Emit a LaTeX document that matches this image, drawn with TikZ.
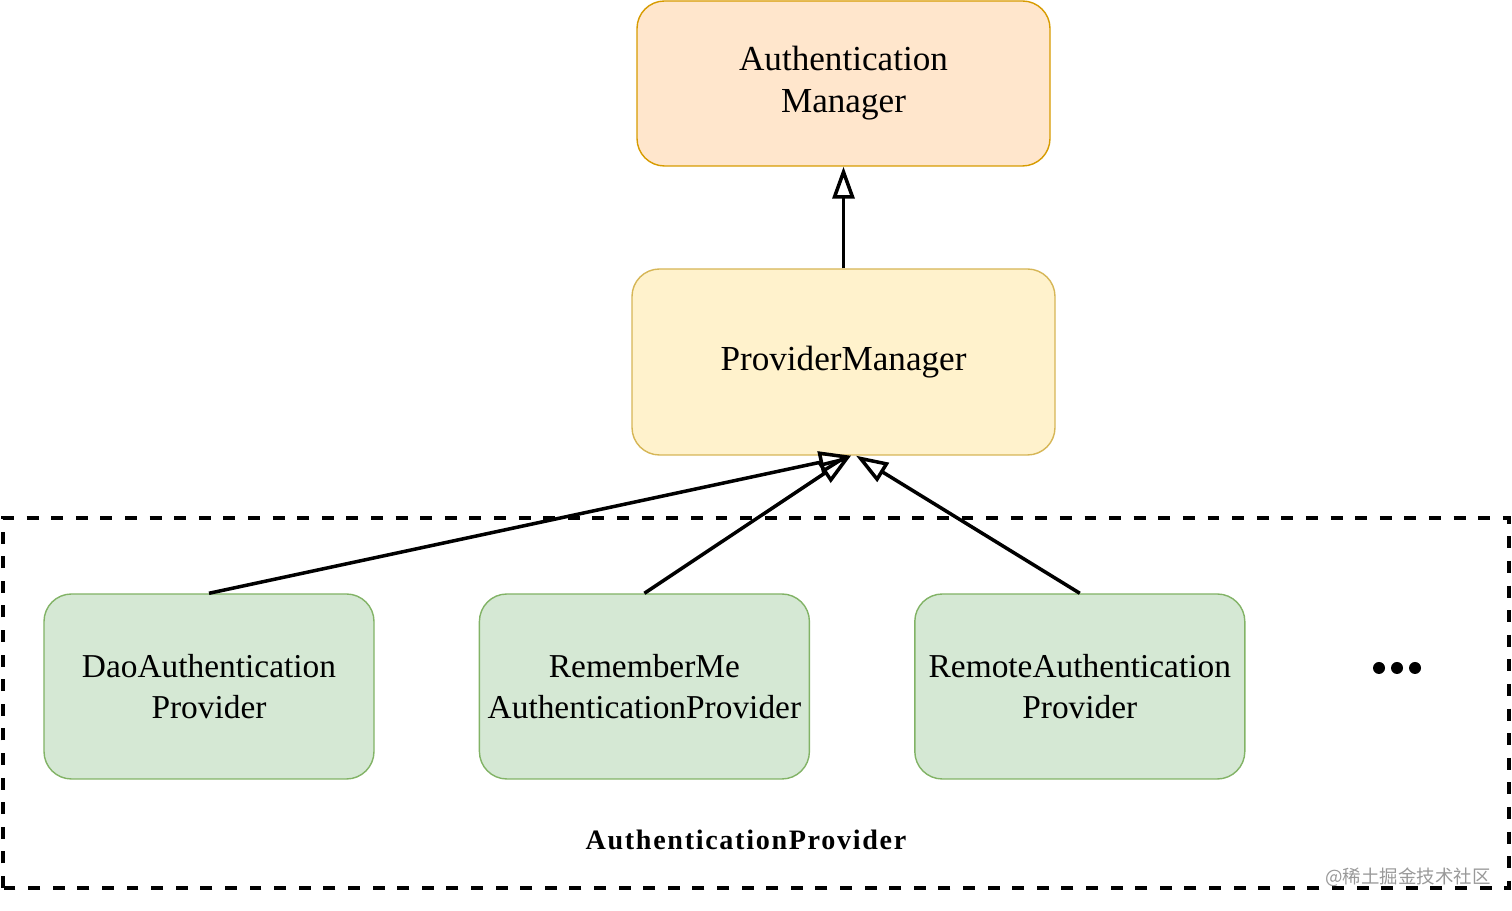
\documentclass[tikz,border=0pt]{standalone}
\usepackage{fontspec}
\setmainfont{Liberation Serif}
\newfontfamily\labelfont[LetterSpace=6]{Liberation Serif}
\newfontfamily\cjkfont{Noto Sans CJK SC}
\usetikzlibrary{arrows.meta, positioning}

\definecolor{amfill}{HTML}{FFE6CC}
\definecolor{amline}{HTML}{D79B00}
\definecolor{pmfill}{HTML}{FFF2CC}
\definecolor{pmline}{HTML}{D6B656}
\definecolor{apfill}{HTML}{D5E8D4}
\definecolor{apline}{HTML}{82B366}

\begin{document}
\begin{tikzpicture}[
    every node/.style={font=\fontsize{20}{24}\selectfont, align=center},
    box/.style={draw, line width=0.8pt, rounded corners=0.55cm},
    provider/.style={box, fill=apfill, draw=apline, inner sep=1pt, minimum width=6.6cm, minimum height=3.7cm, font=\fontsize{19}{23}\selectfont},
    extends/.style={-{Triangle[open, length=0.64cm, width=0.44cm]}, line width=2pt}
  ]
  \useasboundingbox (0,0) rectangle (30.24,18.22);
  % AuthenticationManager
  \node[box, fill=amfill, draw=amline, minimum width=8.26cm, minimum height=3.3cm] (am) at (16.87,16.55) {Authentication\\Manager};
  % ProviderManager
  \node[box, fill=pmfill, draw=pmline, minimum width=8.46cm, minimum height=3.72cm] (pm) at (16.87,10.98) {ProviderManager};
  % Providers
  \node[provider] (dao) at (4.18,4.49) {DaoAuthentication\\Provider};
  \node[provider, right=2.08cm of dao] (rememberme) {RememberMe\\AuthenticationProvider};
  \node[provider, right=2.08cm of rememberme] (remote) {RemoteAuthentication\\Provider};
  % more
  \coordinate (more) at (27.94,4.86);
  \foreach \dx in {-0.36,0,0.36}
    \fill ([xshift=\dx cm]more) circle (0.12);
  % AuthenticationProvider group
  \draw[line width=2.3pt, dash pattern=on 6.8pt off 7.2pt] (0.06,0.46) rectangle (30.18,7.86);
  \node[font=\labelfont\bfseries\fontsize{16}{19}\selectfont] (group) at (14.92,1.42) {AuthenticationProvider};
  % Arrows
  \draw[extends] (pm) -- (am);
  \coordinate (pmtip) at ([xshift=0.15cm]pm.south);
  \draw[extends] (dao.north) -- (pmtip);
  \draw[extends] (rememberme.north) -- (pmtip);
  \draw[extends] (remote.north) -- ([xshift=0.25cm]pm.south);
  % watermark
  \node[font=\cjkfont\fontsize{10.5}{12}\selectfont, text=black!40] (mark) at (28.16,0.68) {@稀土掘金技术社区};
\end{tikzpicture}
\end{document}
